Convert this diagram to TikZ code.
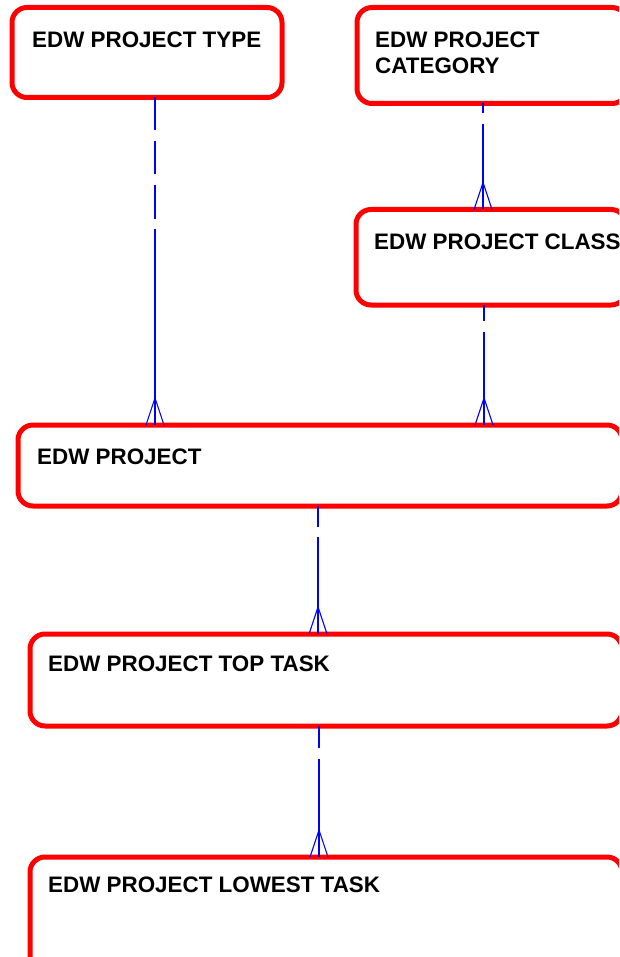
\documentclass[tikz,border=0pt]{standalone}
\usepackage{fontspec}
\setmainfont{Liberation Sans}
\usetikzlibrary{calc}
\definecolor{boxred}{RGB}{255,0,0}
\definecolor{relblue}{RGB}{0,0,255}
\tikzset{
  entity/.style={draw=boxred, line width=5pt, rounded corners=15pt, rectangle, inner sep=0pt, outer sep=0pt, anchor=north west},
  etext/.style={anchor=north west, inner sep=0pt, align=left, font=\fontsize{22.4}{26}\selectfont\bfseries},
  rel/.style={color=relblue, line width=1.1pt},
  crow/.pic={\draw[rel] (0,-27) -- (-9,0) (0,-27) -- (9,0);}
}
\begin{document}
\begin{tikzpicture}[x=1pt,y=-1pt]
\useasboundingbox (0,0) rectangle (619,957);
\clip (0,0) rectangle (619,957);
% entities
\node[entity, minimum width=270pt, minimum height=90pt] (type) at (12,7.5) {};
\node[entity, minimum width=270pt, minimum height=96pt] (category) at (357,7.5) {};
\node[entity, minimum width=270pt, minimum height=95.5pt] (class) at (356,209.5) {};
\node[entity, minimum width=604pt, minimum height=81pt] (project) at (18,425) {};
\node[entity, minimum width=592pt, minimum height=92pt] (toptask) at (30,634) {};
\node[entity, minimum width=592pt, minimum height=130pt] (lowest) at (30,857) {};
% texts
\node[etext] (ttype) at (32,32) {EDW PROJECT TYPE};
\node[etext] (tcategory) at (375,32) {EDW PROJECT\\CATEGORY};
\node[etext] (tclass) at (374,234) {EDW PROJECT CLASS};
\node[etext] (tproject) at (37,449) {EDW PROJECT};
\node[etext] (ttoptask) at (48,656) {EDW PROJECT TOP TASK};
\node[etext] (tlowest) at (48,877) {EDW PROJECT LOWEST TASK};
% connector x positions
\coordinate (x1) at (155,0);
\coordinate (x2) at (483,0);
\coordinate (x3) at (484,0);
\coordinate (x4) at (318,0);
\coordinate (x5) at (319,0);
% connectors
\draw[rel, dash pattern=on 32.5pt off 11pt on 33pt off 11pt on 34pt off 10pt on 2000pt]
  (type.south -| x1) -- (project.north -| x1);
\pic at (project.north -| x1) {crow};
\draw[rel, dash pattern=on 9.5pt off 11pt on 2000pt]
  (category.south -| x2) -- (class.north -| x2);
\pic at (class.north -| x2) {crow};
\draw[rel, dash pattern=on 16pt off 11pt on 2000pt]
  (class.south -| x3) -- (project.north -| x3);
\pic at (project.north -| x3) {crow};
\draw[rel, dash pattern=on 21pt off 10pt on 2000pt]
  (project.south -| x4) -- (toptask.north -| x4);
\pic at (toptask.north -| x4) {crow};
\draw[rel, dash pattern=on 22pt off 11pt on 2000pt]
  (toptask.south -| x5) -- (lowest.north -| x5);
\pic at (lowest.north -| x5) {crow};
\end{tikzpicture}
\end{document}
